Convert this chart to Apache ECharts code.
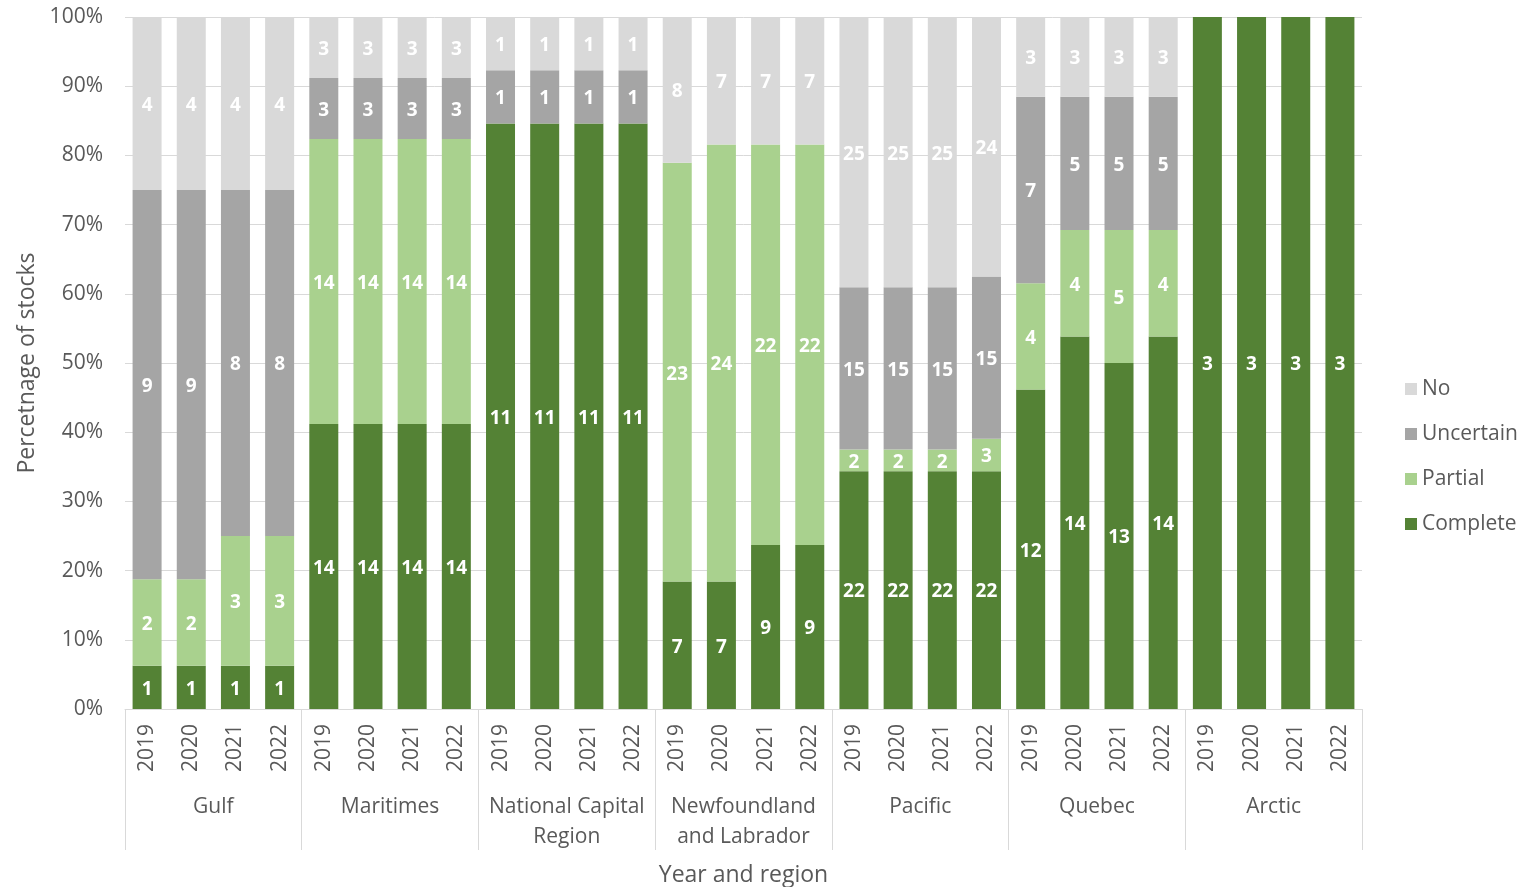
<!DOCTYPE html>
<html>
<head>
<meta charset="utf-8">
<title>Stocks by status, year and region</title>
<script src="https://cdn.jsdelivr.net/npm/echarts@6/dist/echarts.min.js"></script>
<style>
  html, body { margin: 0; padding: 0; background: #ffffff; }
  #chart { width: 1521px; height: 887px; }
</style>
</head>
<body>
<div id="chart"></div>
<script>
// Regions and years (two-level category axis)
const regions = ['Gulf', 'Maritimes', 'National Capital\nRegion', 'Newfoundland\nand Labrador', 'Pacific', 'Quebec', 'Arctic'];
const years = ['2019', '2020', '2021', '2022'];

// Number of stocks per status, one entry per region/year bar (region-major order)
const complete = [
  1, 1, 1, 1,
  14, 14, 14, 14,
  11, 11, 11, 11,
  7, 7, 9, 9,
  22, 22, 22, 22,
  12, 14, 13, 14,
  3, 3, 3, 3
];
const partial = [
  2, 2, 3, 3,
  14, 14, 14, 14,
  0, 0, 0, 0,
  23, 24, 22, 22,
  2, 2, 2, 3,
  4, 4, 5, 4,
  0, 0, 0, 0
];
const uncertain = [
  9, 9, 8, 8,
  3, 3, 3, 3,
  1, 1, 1, 1,
  0, 0, 0, 0,
  15, 15, 15, 15,
  7, 5, 5, 5,
  0, 0, 0, 0
];
const no = [
  4, 4, 4, 4,
  3, 3, 3, 3,
  1, 1, 1, 1,
  8, 7, 7, 7,
  25, 25, 25, 24,
  3, 3, 3, 3,
  0, 0, 0, 0
];

const yTicks = [0, 10, 20, 30, 40, 50, 60, 70, 80, 90, 100];

const yearLabels = [];
regions.forEach(() => years.forEach(y => yearLabels.push(y)));

const totals = complete.map((c, i) => c + partial[i] + uncertain[i] + no[i]);

// Each bar segment is the share of the bar's total; the label shows the count
function toShares(counts) {
  return counts.map((c, i) => ({ value: totals[i] ? c / totals[i] * 100 : 0, count: c }));
}

const textColor = '#595959';
const baseFont = 'Open Sans, Noto Sans, sans-serif';

function barSeries(name, counts, color) {
  return {
    name: name,
    type: 'bar',
    stack: 'share',
    barWidth: 29,
    itemStyle: { color: color },
    label: {
      show: true,
      position: 'inside',
      offset: [0, 2],
      color: '#ffffff',
      fontWeight: 'bold',
      fontSize: 19,
      fontFamily: baseFont,
      formatter: p => (p.data.count > 0 ? String(p.data.count) : '')
    },
    emphasis: { disabled: true },
    data: toShares(counts)
  };
}

const chart = echarts.init(document.getElementById('chart'), null, { renderer: 'canvas' });

chart.setOption({
  animation: false,
  backgroundColor: '#ffffff',
  textStyle: { fontFamily: baseFont },
  grid: { left: 125, right: 159, top: 17, bottom: 178, containLabel: false, outerBoundsMode: 'none' },
  legend: {
    orient: 'vertical',
    left: 1400,
    top: 373,
    itemWidth: 12,
    itemHeight: 12,
    itemGap: 23,
    icon: 'rect',
    data: ['No', 'Uncertain', 'Partial', 'Complete'],
    textStyle: { color: textColor, fontSize: 21, fontFamily: baseFont, lineHeight: 22 }
  },
  xAxis: [
    {
      type: 'category',
      data: yearLabels,
      position: 'bottom',
      axisLine: { show: true, lineStyle: { color: '#d9d9d9', width: 1 } },
      axisTick: { show: false },
      axisLabel: {
        rotate: 90,
        margin: 15,
        interval: 0,
        color: textColor,
        fontSize: 21,
        fontFamily: baseFont
      }
    },
    {
      type: 'category',
      data: regions,
      position: 'bottom',
      axisLine: { show: false },
      axisTick: {
        show: true,
        interval: 0,
        length: 141,
        lineStyle: { color: '#d9d9d9', width: 1 }
      },
      axisLabel: {
        interval: 0,
        margin: 83,
        color: textColor,
        fontSize: 21,
        lineHeight: 30,
        fontFamily: baseFont
      },
      name: 'Year and region',
      nameLocation: 'middle',
      nameGap: 155,
      nameTextStyle: { color: textColor, fontSize: 23, fontFamily: baseFont }
    }
  ],
  yAxis: {
    type: 'value',
    min: yTicks[0],
    max: yTicks[yTicks.length - 1],
    interval: 10,
    axisLine: { show: false },
    axisTick: { show: false },
    splitLine: { show: true, lineStyle: { color: '#d9d9d9', width: 1 } },
    axisLabel: {
      formatter: '{value}%',
      margin: 22,
      color: textColor,
      fontSize: 21,
      fontFamily: baseFont
    },
    name: 'Percetnage of stocks',
    nameLocation: 'middle',
    nameGap: 86,
    nameTextStyle: { color: textColor, fontSize: 23, fontFamily: baseFont }
  },
  series: [
    barSeries('Complete', complete, '#548235'),
    barSeries('Partial', partial, '#a9d18e'),
    barSeries('Uncertain', uncertain, '#a5a5a5'),
    barSeries('No', no, '#d9d9d9')
  ]
});
</script>
</body>
</html>
